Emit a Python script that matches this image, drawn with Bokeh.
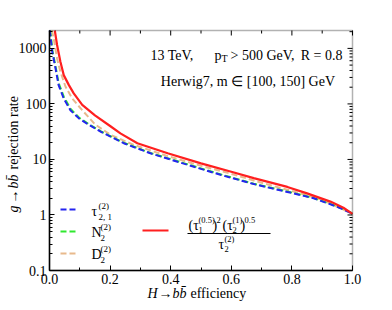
import math
from bokeh.plotting import figure
from bokeh.models import FixedTicker, Label, BoxAnnotation
from bokeh.embed import file_html
from bokeh.resources import INLINE

# ---------------- data ----------------
eff_tau21 = [0.001, 0.003, 0.009, 0.02, 0.03, 0.047, 0.069, 0.097, 0.13, 0.17,
             0.245, 0.333, 0.443, 0.564, 0.674, 0.785, 0.872, 0.95, 1.0]
rej_tau21 = [2100, 1730, 870, 435, 218, 125, 77, 55, 42, 31.5,
             19.6, 12.9, 8.4, 5.3, 3.6, 2.6, 2.0, 1.4, 1.05]

eff_n2 = [0.002, 0.004, 0.01, 0.02, 0.03, 0.047, 0.069, 0.097, 0.13, 0.17,
          0.245, 0.333, 0.443, 0.564, 0.674, 0.785, 0.872, 0.95, 1.0]
rej_n2 = [2100, 1750, 900, 470, 240, 135, 82, 57, 43, 32,
          20, 13.1, 8.6, 5.4, 3.65, 2.65, 2.02, 1.42, 1.07]

eff_d2 = [0.008, 0.014, 0.025, 0.036, 0.053, 0.075, 0.108, 0.15, 0.2, 0.278,
          0.39, 0.5, 0.6, 0.7, 0.8, 0.9, 1.0]
rej_d2 = [2100, 1500, 660, 380, 204, 125, 77, 43, 28, 18.3,
          11.5, 7.7, 5.5, 3.8, 2.7, 1.88, 1.05]

eff_ratio = [0.0175, 0.025, 0.036, 0.047, 0.064, 0.080, 0.108, 0.15, 0.20,
             0.234, 0.29, 0.39, 0.50, 0.60, 0.674, 0.785, 0.85, 0.927, 0.97, 1.0]
rej_ratio = [2100, 1150, 575, 330, 218, 155, 96, 62, 40,
             29.5, 19.6, 12.9, 8.5, 6.0, 4.6, 3.2, 2.45, 1.74, 1.35, 1.05]

x_ticks = [0.0, 0.2, 0.4, 0.6, 0.8, 1.0]
x_tick_labels = ["0.0", "0.2", "0.4", "0.6", "0.8", "1.0"]
x_minor = [0.1, 0.3, 0.5, 0.7, 0.9]
y_ticks = [0.1, 1, 10, 100, 1000]
y_tick_labels = ["0.1", "1", "10", "100", "1000"]

# ---------------- geometry / styling ----------------
FONT = "Liberation Serif"
C_BLUE = "#2424f0"
C_GREEN = "#2fe82f"
C_TAN = "#e8b98c"
C_RED = "#ff1f1f"

W, H = 392, 310
BL, BT, BW, BH = 49, 30, 303, 240          # the axes box, in canvas pixels
X0, X1 = 0.0, 1.0
Y0, Y1 = 0.1, 2100.0
LY0, LY1 = math.log10(Y0), math.log10(Y1)


def dx(px):
    return X0 + (px - BL) / BW * (X1 - X0)


def dy(py):
    return 10 ** (LY1 - (py - BT) / BH * (LY1 - LY0))


# the frame spans the whole canvas; the axes box is drawn inside it
p = figure(width=W, height=H, x_range=(dx(0), dx(W)), y_range=(dy(H), dy(0)),
           y_axis_type="log", output_backend="svg", toolbar_location=None,
           min_border=0)
p.xgrid.visible = False
p.ygrid.visible = False
p.outline_line_color = None
p.background_fill_color = "white"
p.border_fill_color = "white"

y_minor = [m * 10 ** e for e in range(-1, 4) for m in range(2, 10) if m * 10 ** e < Y1]
xt = FixedTicker(ticks=x_ticks, minor_ticks=x_minor)
yt = FixedTicker(ticks=y_ticks, minor_ticks=y_minor)

xa = p.xaxis[0]
ya = p.yaxis[0]
xa.fixed_location = Y0
ya.fixed_location = X0
xa.bounds = (X0, X1)
ya.bounds = (Y0, Y1)
for ax, ticker, ticks, labels in ((xa, xt, x_ticks, x_tick_labels),
                                  (ya, yt, y_ticks, y_tick_labels)):
    ax.ticker = ticker
    ax.major_label_overrides = {t: l for t, l in zip(ticks, labels)}
    ax.axis_line_color = "black"
    ax.axis_line_width = 1.5
    ax.major_tick_in = 5
    ax.major_tick_out = 0
    ax.minor_tick_in = 3
    ax.minor_tick_out = 0
    ax.major_label_text_font = FONT
    ax.major_label_text_font_size = "14px"
    ax.major_label_text_color = "black"
    ax.major_label_standoff = 3

# ---------------- curves ----------------
p.line(eff_d2, rej_d2, line_color=C_TAN, line_width=2, line_dash="6 3")
p.line(eff_n2, rej_n2, line_color=C_GREEN, line_width=2, line_dash="6 3")
p.line(eff_tau21, rej_tau21, line_color=C_BLUE, line_width=2, line_dash="6 3")
p.line(eff_ratio, rej_ratio, line_color=C_RED, line_width=2.2)

# box edges (top / right) and mirrored inward ticks
p.add_layout(BoxAnnotation(left=X0, right=X1, bottom=Y0, top=Y1, fill_alpha=0,
                           line_color="black", line_width=1.5))
p.ray(x=x_ticks, y=Y1, length=5, length_units="screen", angle=-math.pi / 2,
      line_color="black", line_width=1)
p.ray(x=x_minor, y=Y1, length=3, length_units="screen", angle=-math.pi / 2,
      line_color="black", line_width=1)
p.ray(x=X1, y=y_ticks, length=5, length_units="screen", angle=math.pi,
      line_color="black", line_width=1)
p.ray(x=X1, y=y_minor, length=3, length_units="screen", angle=math.pi,
      line_color="black", line_width=1)


def put(px, py, text, size=14, align="left", style="normal", angle=0.0):
    p.add_layout(Label(x=dx(px), y=dy(py), text=text, text_font=FONT,
                       text_font_size=f"{size}px", text_align=align,
                       text_baseline="middle", text_font_style=style,
                       text_color="black", angle=angle))


# ---------------- legend keys ----------------
p.ray(x=dx(60), y=dy(209), length=16, length_units="screen", angle=0,
      line_color=C_BLUE, line_width=2, line_dash="6 3")
p.ray(x=dx(60), y=dy(231), length=16, length_units="screen", angle=0,
      line_color=C_GREEN, line_width=2, line_dash="6 3")
p.ray(x=dx(60), y=dy(253), length=16, length_units="screen", angle=0,
      line_color=C_TAN, line_width=2, line_dash="6 3")
p.ray(x=dx(142), y=dy(230), length=26, length_units="screen", angle=0,
      line_color=C_RED, line_width=2.2)

# ---------------- text ----------------
put(150, 55, "13 TeV,")
put(214, 55, "p")
put(221, 58, "T", size=10)
put(230, 55, "> 500 GeV,")
put(342, 55, "R = 0.8", align="right")
put(338, 81, "Herwig7,  m ∈ [100, 150] GeV", align="right")

put(147, 293, "H", style="italic")
put(158, 293, "→")
put(172, 293, "bb̄", style="italic")
put(190, 293, "efficiency")
A = math.pi / 2
put(13, 212, "g", style="italic", angle=A)
put(13, 203, "→", angle=A)
put(13, 188, "bb̄", style="italic", angle=A)
put(13, 169, "rejection rate", angle=A)

put(91, 211, "τ")
put(98, 205, "(2)", size=9)
put(98, 216, "2, 1", size=9)
put(91, 232, "N")
put(100, 226, "(2)", size=9)
put(100, 237, "2", size=9)
put(91, 254, "D")
put(100, 248, "(2)", size=9)
put(100, 259, "2", size=9)

put(188, 225, "(τ")
put(198, 219, "(0.5)", size=8.5)
put(198, 229, "1", size=8.5)
put(212, 225, ")")
put(216, 219, "2", size=8.5)
put(222, 225, "(τ")
put(232, 219, "(1)", size=8.5)
put(232, 229, "2", size=8.5)
put(240, 225, ")")
put(244, 219, "0.5", size=8.5)
p.add_layout(BoxAnnotation(left=dx(187), right=dx(270), bottom=dy(233.6), top=dy(232.6),
                           fill_color="black", fill_alpha=1, line_color=None))
put(218, 244, "τ")
put(224, 238, "(2)", size=8.5)
put(224, 248, "2", size=8.5)

open("out.html", "w").write(file_html(p, INLINE))
